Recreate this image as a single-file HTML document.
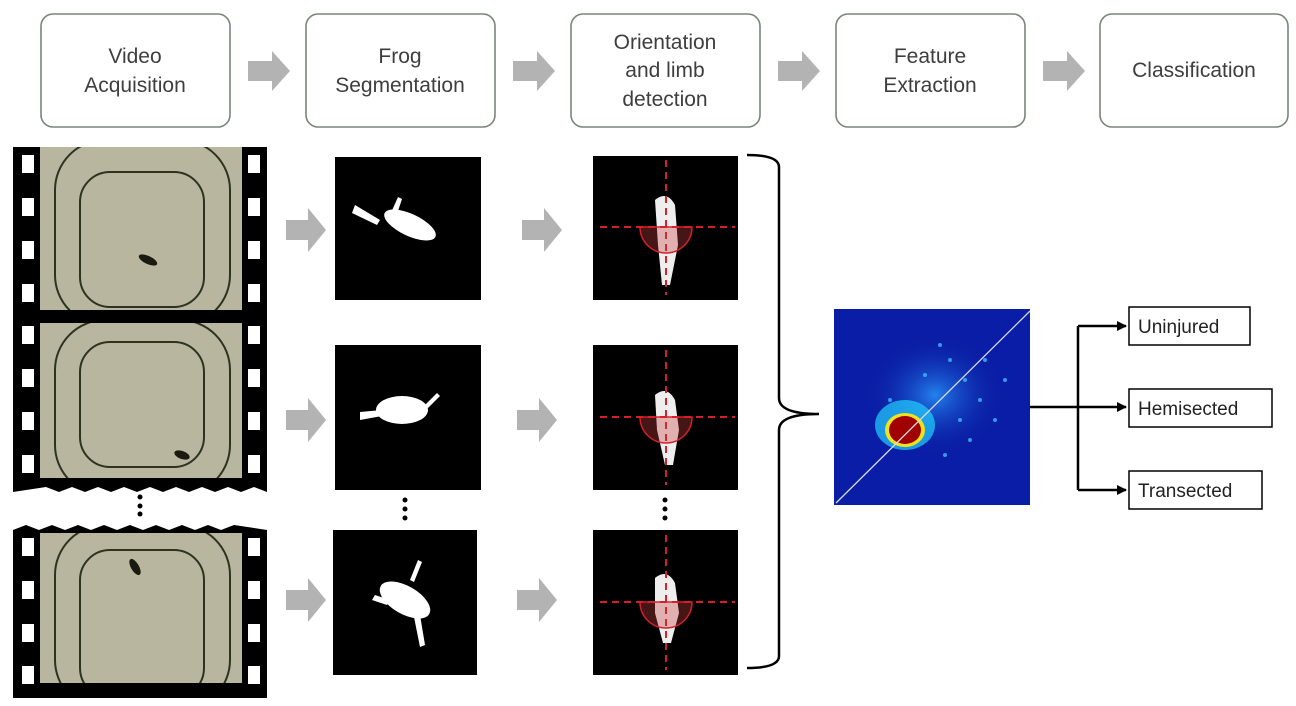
<!DOCTYPE html>
<html><head><meta charset="utf-8"><style>
body{margin:0;background:#fff;}
svg{display:block;font-family:"Liberation Sans",sans-serif;}
</style></head><body>
<svg width="1296" height="706" viewBox="0 0 1296 706" xmlns="http://www.w3.org/2000/svg">
<defs>
<marker id="ah" markerWidth="10" markerHeight="10" refX="9" refY="5" orient="auto" markerUnits="userSpaceOnUse"><path d="M0,0 L10,5 L0,10 z" fill="#000"/></marker>
<radialGradient id="hot" cx="0.5" cy="0.5" r="0.5"><stop offset="0" stop-color="#2a9cff" stop-opacity="0.8"/><stop offset="1" stop-color="#0a1ea0" stop-opacity="0"/></radialGradient>
<clipPath id="c1"><rect x="40" y="147" width="202" height="163"/></clipPath>
<clipPath id="c2"><rect x="40" y="323" width="202" height="155"/></clipPath>
<clipPath id="c3"><rect x="40" y="533" width="202" height="150"/></clipPath>
</defs>
<g fill="#fff" stroke="#7a857a" stroke-width="1.6">
<rect x="41" y="14" width="189" height="113" rx="12"/>
<rect x="306" y="14" width="189" height="113" rx="12"/>
<rect x="571" y="14" width="189" height="113" rx="12"/>
<rect x="836" y="14" width="189" height="113" rx="12"/>
<rect x="1100" y="14" width="188" height="113" rx="12"/>
</g>
<g fill="#3e3e3e" font-size="21" text-anchor="middle">
<text x="135" y="63">Video</text><text x="135" y="92">Acquisition</text>
<text x="400" y="63">Frog</text><text x="400" y="92">Segmentation</text>
<text x="665" y="49">Orientation</text><text x="665" y="77">and limb</text><text x="665" y="106">detection</text>
<text x="930" y="63">Feature</text><text x="930" y="92">Extraction</text>
<text x="1194" y="77">Classification</text>
</g>
<g fill="#b3b3b3">
<path d="M248,61h24v-10l18,20l-18,20v-10h-24z"/>
<path d="M513,61h24v-10l18,20l-18,20v-10h-24z"/>
<path d="M778,61h24v-10l18,20l-18,20v-10h-24z"/>
<path d="M1043,61h24v-10l18,20l-18,20v-10h-24z"/>
<path d="M286,220h22v-12l18,22l-18,22v-12h-22z"/>
<path d="M286,410h22v-12l18,22l-18,22v-12h-22z"/>
<path d="M286,590h22v-12l18,22l-18,22v-12h-22z"/>
<path d="M522,220h22v-12l18,22l-18,22v-12h-22z"/>
<path d="M517,410h22v-12l18,22l-18,22v-12h-22z"/>
<path d="M517,590h22v-12l18,22l-18,22v-12h-22z"/>
</g>
<path d="M13,147H267V492l-13,-5l-13,5l-13,-5l-13,5l-13,-5l-13,5l-13,-5l-13,5l-13,-5l-13,5l-13,-5l-13,5l-13,-5l-13,5l-13,-5l-13,5l-13,-5L13,492z" fill="#000"/>
<path d="M13,530l13,-5l13,5l13,-5l13,5l13,-5l13,5l13,-5l13,5l13,-5l13,5l13,-5l13,5l13,-5l13,5l13,-5l13,5l13,-5L267,530V698H13z" fill="#000"/>
<g fill="#b8b69e">
<rect x="40" y="147" width="202" height="163"/>
<rect x="40" y="323" width="202" height="155"/>
<rect x="40" y="533" width="202" height="150"/>
</g>
<g fill="none" stroke="#2e3320" stroke-width="2">
<g clip-path="url(#c1)"><rect x="80" y="172" width="124" height="135" rx="30"/><rect x="55" y="140" width="175" height="185" rx="50"/></g>
<g clip-path="url(#c2)"><rect x="80" y="342" width="124" height="125" rx="30"/><rect x="55" y="320" width="175" height="175" rx="50"/></g>
<g clip-path="url(#c3)"><rect x="80" y="550" width="124" height="148" rx="30"/><rect x="55" y="525" width="175" height="185" rx="50"/></g>
</g>
<g fill="#1a1a10"><ellipse cx="148" cy="260" rx="10" ry="4" transform="rotate(25 148 260)"/><ellipse cx="182" cy="455" rx="8" ry="4" transform="rotate(20 182 455)"/><ellipse cx="135" cy="567" rx="4" ry="9" transform="rotate(-30 135 567)"/></g>
<g fill="#fff">
<rect x="22" y="155" width="12" height="18"/><rect x="22" y="198" width="12" height="18"/><rect x="22" y="241" width="12" height="18"/><rect x="22" y="284" width="12" height="18"/>
<rect x="22" y="326" width="12" height="18"/><rect x="22" y="369" width="12" height="18"/><rect x="22" y="412" width="12" height="18"/><rect x="22" y="455" width="12" height="18"/>
<rect x="22" y="538" width="12" height="18"/><rect x="22" y="581" width="12" height="18"/><rect x="22" y="624" width="12" height="18"/><rect x="22" y="666" width="12" height="18"/>
<rect x="248" y="155" width="12" height="18"/><rect x="248" y="198" width="12" height="18"/><rect x="248" y="241" width="12" height="18"/><rect x="248" y="284" width="12" height="18"/>
<rect x="248" y="326" width="12" height="18"/><rect x="248" y="369" width="12" height="18"/><rect x="248" y="412" width="12" height="18"/><rect x="248" y="455" width="12" height="18"/>
<rect x="248" y="538" width="12" height="18"/><rect x="248" y="581" width="12" height="18"/><rect x="248" y="624" width="12" height="18"/><rect x="248" y="666" width="12" height="18"/>
</g>
<g fill="#000">
<circle cx="140" cy="497" r="2.5"/><circle cx="140" cy="506" r="2.5"/><circle cx="140" cy="514" r="2.5"/>
<circle cx="405" cy="500" r="2.5"/><circle cx="405" cy="509" r="2.5"/><circle cx="405" cy="518" r="2.5"/>
<circle cx="665" cy="500" r="2.5"/><circle cx="665" cy="509" r="2.5"/><circle cx="665" cy="518" r="2.5"/>
</g>
<rect x="335" y="157" width="146" height="143" fill="#000"/>
<rect x="335" y="345" width="146" height="145" fill="#000"/>
<rect x="333" y="530" width="144" height="145" fill="#000"/>
<g fill="#fff">
<ellipse cx="410" cy="225" rx="28" ry="11" transform="rotate(25 410 225)"/><path d="M355,205l25,15l-3,5l-25,-12z"/><path d="M390,215l8,-18l4,2l-6,18z"/>
<ellipse cx="402" cy="410" rx="26" ry="14"/><path d="M360,412l22,-2l0,6l-22,4z"/><path d="M425,405l12,-12l3,3l-12,12z"/>
<ellipse cx="405" cy="600" rx="28" ry="14" transform="rotate(30 405 600)"/><path d="M375,595l15,5l-3,5l-15,-5z"/><path d="M420,615l5,30l-5,2l-6,-30z"/><path d="M410,580l8,-20l4,2l-8,20z"/>
</g>
<rect x="593" y="156" width="145" height="144" fill="#000"/>
<rect x="593" y="345" width="145" height="145" fill="#000"/>
<rect x="593" y="530" width="145" height="145" fill="#000"/>
<g fill="#eee">
<path d="M655,200q12,-10 20,5l3,40l-8,40h-8l-4,-40z"/>
<path d="M655,395q12,-10 20,5l4,30l-6,35h-8l-8,-35z"/>
<path d="M655,578q12,-10 20,5l4,30l-8,30h-8l-8,-30z"/>
</g>
<g stroke="#d4202a" stroke-width="2" stroke-dasharray="7,5" fill="none">
<path d="M600,227H735M666,160V295"/>
<path d="M600,417H735M666,350V485"/>
<path d="M600,602H735M666,535V670"/>
</g>
<g stroke="#d4202a" stroke-width="1.5" fill="rgba(200,60,60,0.35)">
<path d="M640,227a26,26 0 0 0 52,0z"/><path d="M640,417a26,26 0 0 0 52,0z"/><path d="M640,602a26,26 0 0 0 52,0z"/>
</g>
<path d="M747,155q32,0 32,12V398q0,16 40,16q-40,0 -40,16V656q0,12 -32,12" fill="none" stroke="#000" stroke-width="2.5"/>
<rect x="834" y="309" width="196" height="196" fill="#0a1da6"/>
<ellipse cx="935" cy="395" rx="70" ry="60" fill="url(#hot)"/>
<g fill="#3fb8ff" opacity="0.8">
<circle cx="950" cy="360" r="2"/><circle cx="965" cy="380" r="2"/><circle cx="980" cy="400" r="2"/><circle cx="940" cy="345" r="2"/><circle cx="995" cy="420" r="2"/><circle cx="925" cy="375" r="2"/><circle cx="970" cy="440" r="2"/><circle cx="945" cy="455" r="2"/><circle cx="1005" cy="380" r="2"/><circle cx="890" cy="400" r="2"/><circle cx="960" cy="420" r="2"/><circle cx="985" cy="360" r="2"/>
</g>
<ellipse cx="905" cy="425" rx="30" ry="25" fill="#22d0ff" opacity="0.7"/>
<ellipse cx="905" cy="430" rx="20" ry="17" fill="#f2e21a"/>
<ellipse cx="905" cy="430" rx="16" ry="14" fill="#a00000"/>
<line x1="836" y1="503" x2="1030" y2="311" stroke="#d8d8e8" stroke-width="1.3"/>
<g stroke="#000" stroke-width="2.5" fill="none">
<path d="M1030,407H1126" marker-end="url(#ah)"/>
<path d="M1078,326V490"/>
<path d="M1078,326H1126" marker-end="url(#ah)"/>
<path d="M1078,490H1126" marker-end="url(#ah)"/>
</g>
<g fill="#fff" stroke="#000" stroke-width="1.5">
<rect x="1129" y="307" width="121" height="38"/>
<rect x="1129" y="389" width="143" height="38"/>
<rect x="1129" y="471" width="133" height="38"/>
</g>
<g font-size="19" fill="#222">
<text x="1138" y="333">Uninjured</text>
<text x="1138" y="415">Hemisected</text>
<text x="1138" y="497">Transected</text>
</g>
</svg>
</body></html>
